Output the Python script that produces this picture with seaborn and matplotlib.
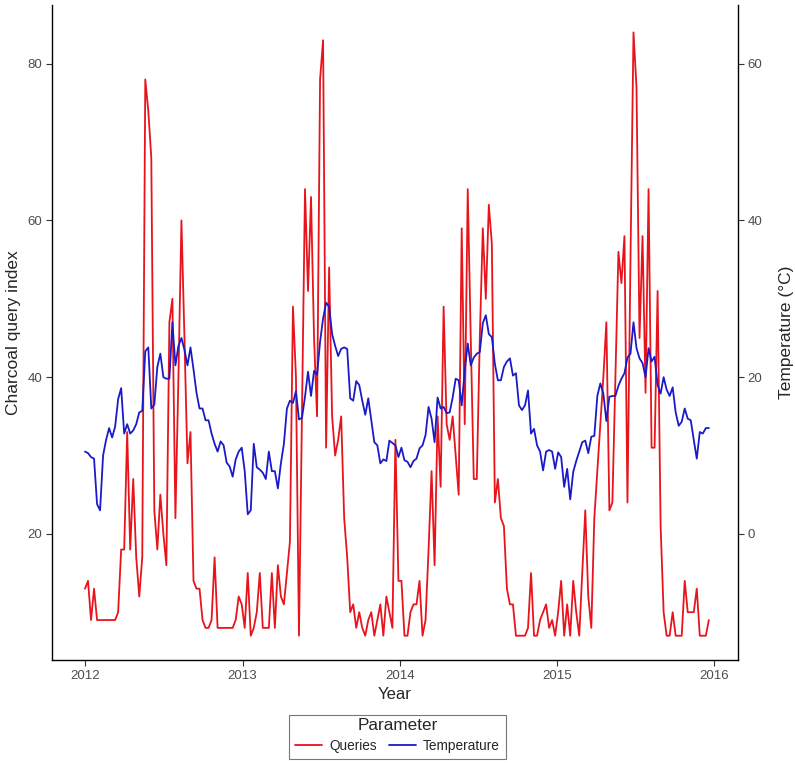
import numpy as np
import pandas as pd
import matplotlib
matplotlib.use("Agg")
import matplotlib.pyplot as plt
import matplotlib.dates as mdates
from matplotlib.lines import Line2D
import seaborn as sns

# ---------------- data (weekly) ----------------
queries_2012 = [13, 14, 9, 13, 9, 9, 9, 9, 9, 9, 9, 10, 18, 18, 33, 18, 27, 17, 12, 17,
                78, 74, 68, 23, 18, 25, 20, 16, 47, 50, 22, 40, 60, 45, 29, 33, 14, 13, 13, 9,
                8, 8, 9, 17, 8, 8, 8, 8, 8, 8, 9, 12]
queries_2013 = [11, 8, 15, 7, 8, 10, 15, 8, 8, 8, 15, 8, 16, 12, 11, 15, 19, 49, 40, 7,
                35, 64, 51, 63, 45, 35, 78, 83, 31, 54, 35, 30, 32, 35, 22, 17, 10, 11, 8, 10,
                8, 7, 9, 10, 7, 9, 11, 7, 12, 10, 8, 32]
queries_2014 = [14, 14, 7, 7, 10, 11, 11, 14, 7, 9, 18, 28, 16, 35, 26, 49, 34, 32, 35, 30,
                25, 59, 34, 64, 45, 27, 27, 45, 59, 50, 62, 57, 24, 27, 22, 21, 13, 11, 11, 7,
                7, 7, 7, 8, 15, 7, 7, 9, 10, 11, 8, 9]
queries_2015 = [7, 10, 14, 7, 11, 7, 14, 10, 7, 15, 23, 12, 8, 22, 28, 34, 40, 47, 23, 24,
                40, 56, 52, 58, 24, 55, 84, 77, 45, 58, 38, 64, 31, 31, 51, 21, 10, 7, 7, 10,
                7, 7, 7, 14, 10, 10, 10, 13, 7, 7, 7, 9]

temp_2012 = [10.5, 10.3, 9.8, 9.6, 3.8, 3.0, 10.0, 12.0, 13.5, 12.3, 13.7, 17.2, 18.6, 12.8,
             14.0, 12.8, 13.2, 14.0, 15.5, 15.7, 23.3, 23.8, 16.0, 16.5, 21.3, 23.0, 20.0,
             19.8, 19.8, 27.0, 21.5, 24.0, 25.0, 23.5, 21.5, 23.8, 21.0, 18.0, 16.0, 16.0,
             14.5, 14.5, 12.8, 11.5, 10.5, 11.8, 11.3, 9.1, 8.6, 7.3, 9.5, 10.5]
temp_2013 = [11.0, 8.0, 2.5, 3.0, 11.5, 8.5, 8.2, 7.8, 7.0, 10.5, 8.0, 8.0, 5.8, 9.0, 11.5,
             16.0, 17.0, 16.7, 18.2, 14.6, 14.8, 17.5, 20.7, 17.6, 20.8, 20.3, 24.5, 27.5,
             29.5, 29.0, 25.5, 24.0, 22.7, 23.6, 23.8, 23.6, 17.3, 17.0, 19.5, 19.0, 17.0,
             15.2, 17.3, 14.5, 11.7, 11.3, 9.0, 9.5, 9.3, 11.9, 11.6, 11.3]
temp_2014 = [9.8, 11.0, 9.4, 9.2, 8.5, 9.3, 9.6, 10.9, 11.3, 12.6, 16.2, 14.7, 11.7, 17.4,
             16.0, 16.2, 15.4, 15.5, 17.4, 19.8, 19.6, 16.4, 20.9, 24.3, 21.5, 22.5, 23.0,
             23.2, 26.9, 27.9, 25.5, 25.1, 21.7, 19.6, 19.6, 21.3, 22.0, 22.4, 20.2, 20.5,
             16.4, 15.8, 16.4, 18.3, 12.8, 13.4, 11.3, 10.5, 8.1, 10.5, 10.7, 10.5]
temp_2015 = [8.3, 10.4, 9.8, 6.0, 8.3, 4.4, 7.9, 9.3, 10.5, 11.7, 11.9, 10.3, 12.4, 12.5,
             17.6, 19.2, 17.9, 14.4, 17.5, 17.6, 17.6, 18.9, 19.8, 20.5, 22.5, 23.0, 27.0,
             23.7, 22.4, 21.8, 20.0, 23.7, 22.0, 22.6, 19.0, 17.9, 20.0, 18.4, 17.6, 18.7,
             15.5, 13.8, 14.3, 16.0, 14.7, 14.5, 12.0, 9.6, 13.0, 12.8, 13.5, 13.5]

year_ticks = ["2012", "2013", "2014", "2015", "2016"]
left_ticks = [20, 40, 60, 80]
right_ticks = [0, 20, 40, 60]

queries = queries_2012 + queries_2013 + queries_2014 + queries_2015
temperature = temp_2012 + temp_2013 + temp_2014 + temp_2015
dates = pd.date_range("2012-01-01", periods=len(queries), freq="7D")
df = pd.DataFrame({"date": dates, "Queries": queries, "Temperature": temperature})

# ---------------- style ----------------
sns.set_style("white")
plt.rcParams["font.family"] = ["Liberation Sans", "DejaVu Sans"]

RED = "#e8141c"
BLUE = "#1a1ac8"
TICKCOL = "#4d4d4d"

fig = plt.figure(figsize=(7.95, 7.63), dpi=100)
ax = fig.add_axes([52 / 795, 103 / 763, 686 / 795, 655 / 763])
ax2 = ax.twinx()

sns.lineplot(data=df, x="date", y="Queries", ax=ax, color=RED, linewidth=1.3)
sns.lineplot(data=df, x="date", y="Temperature", ax=ax2, color=BLUE, linewidth=1.3)

# x axis limits
d2012 = mdates.date2num(pd.Timestamp("2012-01-01"))
d2016 = mdates.date2num(pd.Timestamp("2016-01-01"))
ppd = (714 - 85) / (d2016 - d2012)
ax.set_xlim(d2012 - 33 / ppd, d2016 + 24 / ppd)
ax.set_xticks([mdates.date2num(pd.Timestamp(f"{y}-01-01")) for y in year_ticks])
ax.set_xticklabels(year_ticks)

ax.set_ylim(3.9, 87.5)
ax2.set_ylim(3.9 - 20, 87.5 - 20)
ax.set_yticks(left_ticks)
ax2.set_yticks(right_ticks)

for a in (ax, ax2):
    a.tick_params(direction="out", length=4, width=0.8, color="#333333",
                  labelsize=9.5, labelcolor=TICKCOL, pad=3)
    a.spines["top"].set_visible(False)
    for s in a.spines.values():
        s.set_color("black")
        s.set_linewidth(1.0)
ax.tick_params(axis="both", which="both", bottom=True, left=True)
ax2.tick_params(axis="y", right=True)
ax.spines["right"].set_visible(False)
ax2.spines["left"].set_visible(False)
ax2.spines["bottom"].set_visible(False)

ax.set_xlabel("Year", fontsize=12, labelpad=4)
ax.set_ylabel("Charcoal query index", fontsize=12.5, labelpad=5)
ax2.set_ylabel("Temperature (°C)", fontsize=12.5, labelpad=12)

handles = [Line2D([], [], color=RED, lw=1.3, label="Queries"),
           Line2D([], [], color=BLUE, lw=1.3, label="Temperature")]
leg = fig.legend(handles=handles, title="Parameter", ncol=2, loc="upper center",
                 bbox_to_anchor=(0.5, (763 - 708) / 763), frameon=True, fancybox=False,
                 fontsize=9.8, title_fontsize=12.3, handlelength=2.0, columnspacing=0.9,
                 handletextpad=0.5, borderpad=0.45, labelspacing=0.2)
leg.get_frame().set_edgecolor("#555555")
leg.get_frame().set_linewidth(0.8)
leg.get_title().set_position((0, 3))

fig.savefig("out.png", dpi=100)
